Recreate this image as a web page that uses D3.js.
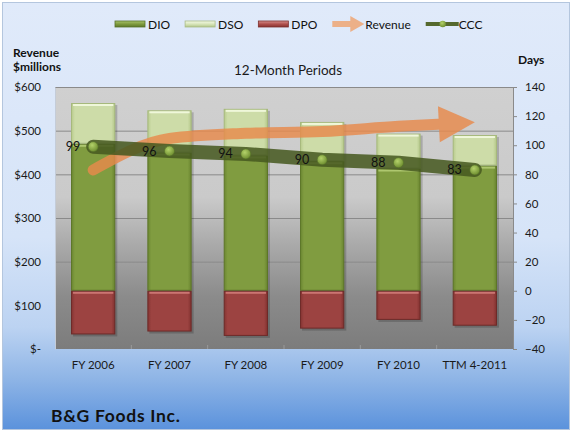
<!DOCTYPE html>
<html>
<head>
<meta charset="utf-8">
<script src="https://cdn.jsdelivr.net/npm/d3@7"></script>
<style>
  html, body { margin: 0; padding: 0; background: #ffffff; }
  svg { display: block; font-family: Lato, "Open Sans", sans-serif; }
</style>
</head>
<body>
<script>
const w = 574;
const h = 433;
const plot = { left: 55, right: 513, top: 87, bottom: 349 };

// data
const categories = ["FY 2006", "FY 2007", "FY 2008", "FY 2009", "FY 2010", "TTM 4-2011"];
const dio = [101, 95, 93, 89, 84, 86];
const dso = [28, 29, 32, 27, 24, 21];
const dpo = [30, 28, 31, 26, 20, 24];
const ccc = [99, 96, 94, 90, 88, 83];
const revenue = [410, 482, 494, 498, 510, 519];
const revenueTicks = [0, 100, 200, 300, 400, 500, 600];
const dayTicks = [-40, -20, 0, 20, 40, 60, 80, 100, 120, 140];

const svg = d3.select("body").append("svg").attr("width", w).attr("height", h);
const defs = svg.append("defs");

const vGrad = (id, stops) => {
  const g = defs.append("linearGradient").attr("id", id)
    .attr("x1", 0).attr("y1", 0).attr("x2", 0).attr("y2", 1);
  stops.forEach(([o, c]) => g.append("stop").attr("offset", o).attr("stop-color", c));
};
const hGrad = (id, stops) => {
  const g = defs.append("linearGradient").attr("id", id)
    .attr("x1", 0).attr("y1", 0).attr("x2", 1).attr("y2", 0);
  stops.forEach(([o, c]) => g.append("stop").attr("offset", o).attr("stop-color", c));
};

vGrad("panelBg", [[0, "#e0eafa"], [0.55, "#d6e4f8"], [0.76, "#bcd3f2"], [0.88, "#8fb5e6"], [1, "#5b92dc"]]);
vGrad("plotBg", [[0, "#d0d0d0"], [0.42, "#cacaca"], [0.6, "#aaaaaa"], [0.8, "#8b8b8b"], [1, "#7c7c7c"]]);
hGrad("dioFill", [[0, "#6c8732"], [0.08, "#809c40"], [0.92, "#809c40"], [1, "#6a8530"]]);
hGrad("dsoFill", [[0, "#b9cc8e"], [0.08, "#cddca8"], [0.92, "#cddca8"], [1, "#b5c88a"]]);
hGrad("dpoFill", [[0, "#853533"], [0.08, "#9c4341"], [0.92, "#9c4341"], [1, "#823230"]]);
vGrad("legDio", [[0, "#a9c46a"], [0.5, "#7f9b3f"], [1, "#5e7a28"]]);
vGrad("legDso", [[0, "#f4f9e6"], [0.5, "#d8e6bb"], [1, "#b3c68a"]]);
vGrad("legDpo", [[0, "#d8908e"], [0.5, "#b0504d"], [1, "#8a3331"]]);
const rg = defs.append("radialGradient").attr("id", "dot").attr("cx", 0.4).attr("cy", 0.35).attr("r", 0.7);
rg.append("stop").attr("offset", 0).attr("stop-color", "#b4d26a");
rg.append("stop").attr("offset", 1).attr("stop-color", "#6a8a2c");

// background panel
svg.append("rect")
  .attr("x", 2.5).attr("y", 2.5).attr("width", 567).attr("height", 427)
  .attr("fill", "url(#panelBg)").attr("stroke", "#b4c6de");

// scales
const x = d3.scaleBand().domain(categories).range([plot.left, plot.right])
  .paddingInner(0.42).paddingOuter(0.21);
const step = x.step();
const yRev = d3.scaleLinear().domain([0, 600]).range([plot.bottom, plot.top]);
const yDays = d3.scaleLinear().domain([-40, 140]).range([plot.bottom, plot.top]);
const cx = (c) => x(c) + x.bandwidth() / 2;

// plot area
svg.append("rect")
  .attr("x", plot.left).attr("y", plot.top)
  .attr("width", plot.right - plot.left).attr("height", plot.bottom - plot.top)
  .attr("fill", "url(#plotBg)");

svg.append("g").selectAll("line")
  .data(revenueTicks.filter((d) => d > 0))
  .join("line")
  .attr("x1", plot.left).attr("x2", plot.right)
  .attr("y1", (d) => yRev(d) + 0.5).attr("y2", (d) => yRev(d) + 0.5)
  .attr("stroke", "#8a8a8a").attr("stroke-width", 1);

// small category ticks along the bottom
svg.append("g").selectAll("line")
  .data(d3.range(1, categories.length))
  .join("line")
  .attr("x1", (i) => plot.left + i * step).attr("x2", (i) => plot.left + i * step)
  .attr("y1", plot.bottom - 4).attr("y2", plot.bottom)
  .attr("stroke", "#9a9a9a");

// bars
const stacks = [
  { key: "dio", vals: categories.map((c, i) => [0, dio[i]]), fill: "url(#dioFill)", edge: "#5d7628", hi: "#b2cc74" },
  { key: "dso", vals: categories.map((c, i) => [dio[i], dio[i] + dso[i]]), fill: "url(#dsoFill)", edge: "#a6b97c", hi: "#f3f9df" },
  { key: "dpo", vals: categories.map((c, i) => [-dpo[i], 0]), fill: "url(#dpoFill)", edge: "#6e2a28", hi: "#d07b78" }
];

const barG = svg.append("g");
// soft shadow
barG.selectAll("rect.shadow")
  .data(categories)
  .join("rect")
  .attr("class", "shadow")
  .attr("x", (c) => x(c) + 2)
  .attr("y", (c, i) => yDays(dio[i] + dso[i]) + 2)
  .attr("width", x.bandwidth())
  .attr("height", (c, i) => yDays(-dpo[i]) - yDays(dio[i] + dso[i]))
  .attr("fill", "#000").attr("opacity", 0.18);

stacks.forEach((s) => {
  const g = barG.append("g").attr("class", s.key);
  g.selectAll("rect.bar")
    .data(categories)
    .join("rect")
    .attr("class", "bar")
    .attr("x", (c) => x(c) + 0.5)
    .attr("y", (c, i) => yDays(s.vals[i][1]) + 0.5)
    .attr("width", x.bandwidth() - 1)
    .attr("height", (c, i) => yDays(s.vals[i][0]) - yDays(s.vals[i][1]) - 1)
    .attr("fill", s.fill)
    .attr("stroke", s.edge).attr("stroke-width", 1);
  g.selectAll("rect.hi")
    .data(categories)
    .join("rect")
    .attr("class", "hi")
    .attr("x", (c) => x(c) + 2)
    .attr("y", (c, i) => yDays(s.vals[i][1]) + 1)
    .attr("width", x.bandwidth() - 4)
    .attr("height", 2)
    .attr("fill", s.hi).attr("opacity", 0.9);
});

// revenue arrow
const revPts = categories.map((c, i) => [cx(c), yRev(revenue[i])]);
const tip = revPts[revPts.length - 1];
const prev = revPts[revPts.length - 2];
const len = Math.hypot(tip[0] - prev[0], tip[1] - prev[1]);
const u = [(tip[0] - prev[0]) / len, (tip[1] - prev[1]) / len];
const nrm = [-u[1], u[0]];
const headLen = 36;
const headHalf = 18;
const lineEnd = [tip[0] - u[0] * 22, tip[1] - u[1] * 22];
const base = [tip[0] - u[0] * headLen, tip[1] - u[1] * headLen];

const arrowG = svg.append("g").attr("opacity", 0.82);
arrowG.append("path")
  .attr("d", d3.line().curve(d3.curveMonotoneX)([...revPts.slice(0, -1), lineEnd]))
  .attr("fill", "none")
  .attr("stroke", "#e88a4c")
  .attr("stroke-width", 11)
  .attr("stroke-linecap", "round");
arrowG.append("path")
  .attr("d", `M${tip[0]},${tip[1]}L${base[0] + nrm[0] * headHalf},${base[1] + nrm[1] * headHalf}` +
    `L${base[0] - nrm[0] * headHalf},${base[1] - nrm[1] * headHalf}Z`)
  .attr("fill", "#e88a4c");

// CCC line
const cccPts = categories.map((c, i) => [cx(c), yDays(ccc[i])]);
svg.append("path")
  .attr("d", d3.line()(cccPts))
  .attr("fill", "none")
  .attr("stroke", "#46591f")
  .attr("stroke-opacity", 0.86)
  .attr("stroke-width", 14)
  .attr("stroke-linecap", "round")
  .attr("stroke-linejoin", "round");

svg.append("g").selectAll("circle")
  .data(cccPts)
  .join("circle")
  .attr("cx", (d) => d[0]).attr("cy", (d) => d[1]).attr("r", 5)
  .attr("fill", "url(#dot)").attr("stroke", "#55702a").attr("stroke-width", 0.6);

svg.append("g").selectAll("text")
  .data(cccPts)
  .join("text")
  .attr("x", (d) => d[0] - 13)
  .attr("y", (d) => d[1] + 4.5)
  .attr("text-anchor", "end")
  .attr("font-size", 12.5)
  .attr("fill", "#111")
  .text((d, i) => ccc[i]);

// axes
const leftAxis = d3.axisLeft(yRev).tickValues(revenueTicks)
  .tickSize(0).tickPadding(14)
  .tickFormat((d) => (d === 0 ? "$-" : `$${d}`));
svg.append("g")
  .attr("transform", `translate(${plot.left}, 0)`)
  .call(leftAxis)
  .call((g) => g.select(".domain").attr("stroke", "#c4ccd8"))
  .call((g) => g.selectAll("text").attr("font-size", 11.5).attr("fill", "#1a1a1a").attr("font-family", "Lato"));

const rightAxis = d3.axisRight(yDays).tickValues(dayTicks)
  .tickSize(4).tickSizeOuter(0).tickPadding(8);
svg.append("g")
  .attr("transform", `translate(${plot.right}, 0)`)
  .call(rightAxis)
  .call((g) => g.select(".domain").attr("stroke", "#8a8a8a"))
  .call((g) => g.selectAll(".tick line").attr("stroke", "#8a8a8a"))
  .call((g) => g.selectAll("text").attr("font-size", 11.5).attr("fill", "#1a1a1a").attr("font-family", "Lato"));

const xAxis = d3.axisBottom(x).tickSize(0).tickPadding(12);
svg.append("g")
  .attr("transform", `translate(0, ${plot.bottom})`)
  .call(xAxis)
  .call((g) => g.select(".domain").remove())
  .call((g) => g.selectAll("text").attr("font-size", 11.5).attr("fill", "#1a1a1a").attr("font-family", "Lato"));

// titles
svg.append("text").attr("x", 13).attr("y", 57)
  .attr("font-size", 12).attr("font-weight", "bold").attr("fill", "#111").text("Revenue");
svg.append("text").attr("x", 13).attr("y", 71)
  .attr("font-size", 12).attr("font-weight", "bold").attr("fill", "#111").text("$millions");
svg.append("text").attr("x", 518).attr("y", 64)
  .attr("font-size", 12).attr("font-weight", "bold").attr("fill", "#111").text("Days");
svg.append("text").attr("x", 288).attr("y", 75).attr("text-anchor", "middle")
  .attr("font-size", 13.5).attr("fill", "#1a1a1a").text("12-Month Periods");
svg.append("text").attr("x", 51).attr("y", 422)
  .attr("font-size", 17.5).attr("font-weight", "bold").attr("letter-spacing", 0.7)
  .attr("fill", "#111").text("B&G Foods Inc.");

// legend
const legendItems = [
  { name: "DIO", type: "box", fill: "url(#legDio)", edge: "#56702a" },
  { name: "DSO", type: "box", fill: "url(#legDso)", edge: "#a9bb86" },
  { name: "DPO", type: "box", fill: "url(#legDpo)", edge: "#7c2e2c" },
  { name: "Revenue", type: "arrow" },
  { name: "CCC", type: "line" }
];
const legend = svg.append("g").attr("font-size", 12).attr("fill", "#111");
let lx = 115;
const ly = 24;
legendItems.forEach((it) => {
  if (it.type === "box") {
    legend.append("rect").attr("x", lx).attr("y", ly - 3).attr("width", 30).attr("height", 6)
      .attr("fill", it.fill).attr("stroke", it.edge).attr("stroke-width", 0.8);
  } else if (it.type === "arrow") {
    legend.append("path")
      .attr("d", `M${lx},${ly - 3}H${lx + 18}V${ly - 8}L${lx + 32},${ly}L${lx + 18},${ly + 8}V${ly + 3}H${lx}Z`)
      .attr("fill", "#ecb088");
  } else {
    legend.append("line").attr("x1", lx).attr("x2", lx + 33).attr("y1", ly).attr("y2", ly)
      .attr("stroke", "#55692e").attr("stroke-width", 4);
    legend.append("circle").attr("cx", lx + 17).attr("cy", ly).attr("r", 3.2)
      .attr("fill", "url(#dot)");
  }
  const t = legend.append("text").attr("x", lx + 33).attr("y", ly + 4.5).text(it.name);
  lx += 33 + t.node().getComputedTextLength() + 15;
});
</script>
</body>
</html>
